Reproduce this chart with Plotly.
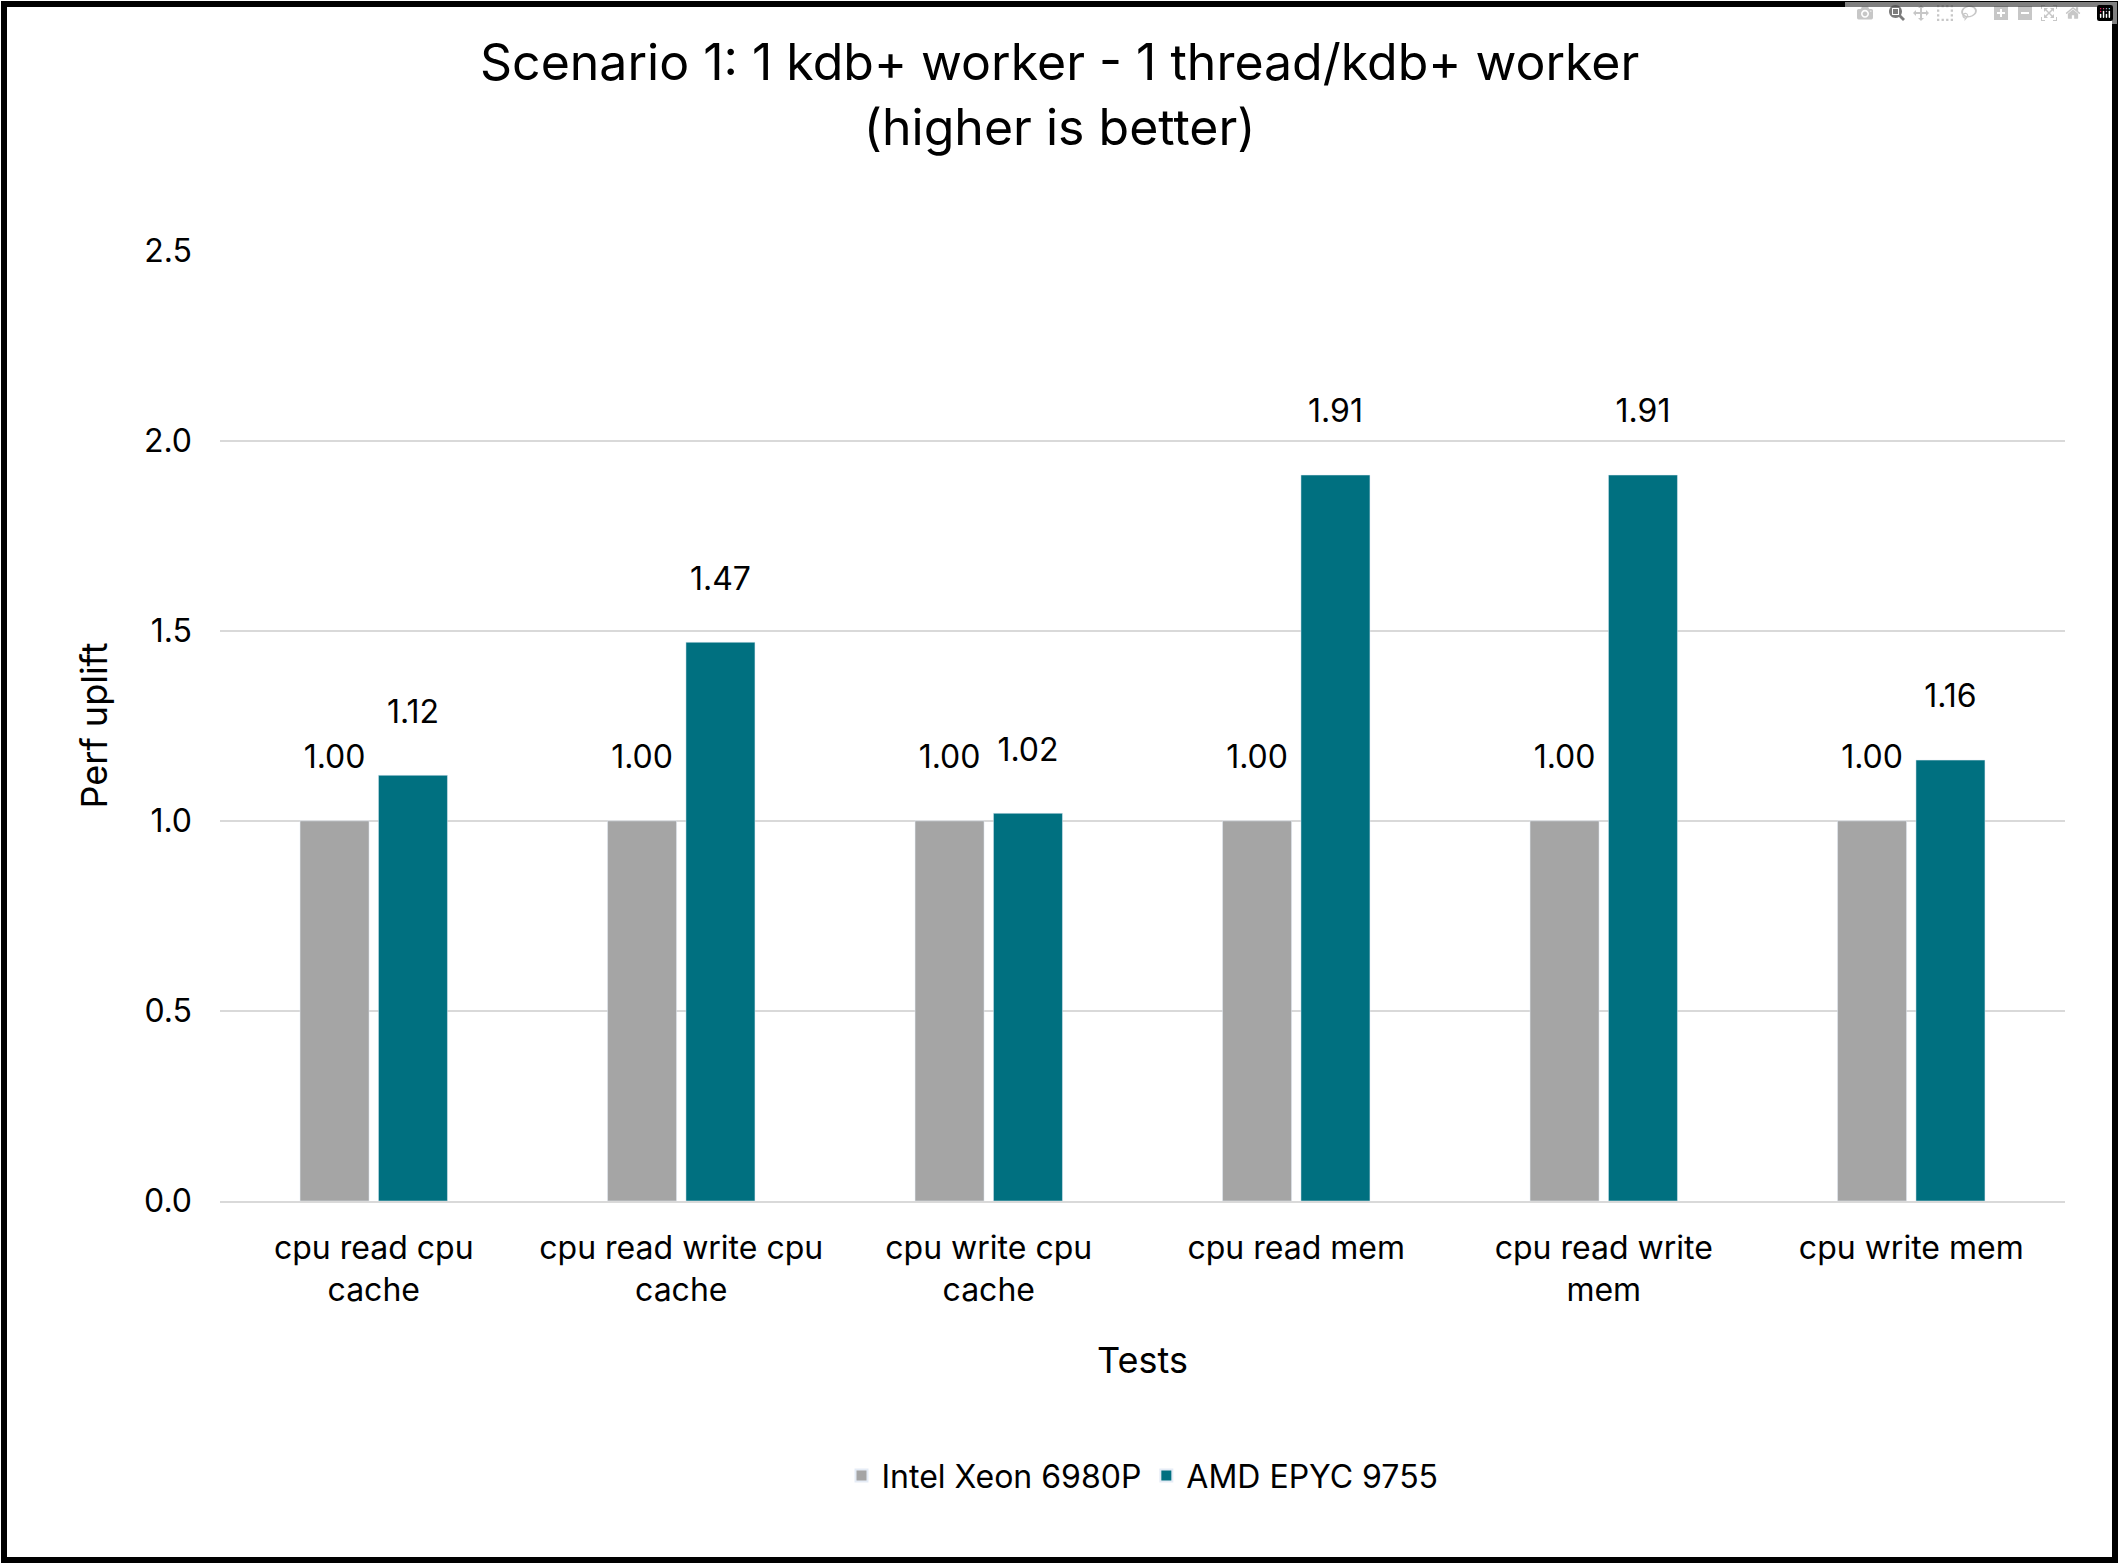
import plotly.graph_objects as go

categories = ["cpu read cpu<br>cache", "cpu read write cpu<br>cache", "cpu write cpu<br>cache",
              "cpu read mem", "cpu read write<br>mem", "cpu write mem"]
intel = [1.00, 1.00, 1.00, 1.00, 1.00, 1.00]
amd = [1.12, 1.47, 1.02, 1.91, 1.91, 1.16]

W, H = 2119, 1564
L, R, T, B = 220, 54, 250, 363
pw, ph = W - L - R, H - T - B
font = "Inter, Open Sans, sans-serif"

fig = go.Figure()
fig.add_bar(x=categories, y=intel, name="Intel Xeon 6980P", marker_color="#A5A5A5",
            text=[f"{v:.2f}<br> " for v in intel], textposition="outside",
            textfont=dict(size=32, color="black"), cliponaxis=False)
fig.add_bar(x=categories, y=amd, name="AMD EPYC 9755", marker_color="#007080",
            text=[f"{v:.2f}<br> " for v in amd], textposition="outside",
            textfont=dict(size=32, color="black"), cliponaxis=False)

fig.update_layout(
    width=W, height=H,
    margin=dict(l=L, r=R, t=T, b=B),
    paper_bgcolor="white", plot_bgcolor="white",
    font=dict(family=font, color="black", size=32),
    barmode="group", bargap=0.49, bargroupgap=0.12,
    xaxis=dict(title=dict(text="Tests", font=dict(size=36), standoff=40),
               tickfont=dict(size=32), showline=True, linecolor="#D9D9D9", linewidth=2,
               ticklabelstandoff=18),
    yaxis=dict(title=dict(text="Perf uplift", font=dict(size=36), standoff=25),
               range=[0, 2.502], dtick=0.5, tickformat=".1f",
               tickfont=dict(size=32), gridcolor="#D9D9D9", gridwidth=2,
               zeroline=False, ticksuffix="   "),
    legend=dict(orientation="h", x=0.5, xanchor="center", y=-0.26, yanchor="top",
                font=dict(size=32), itemsizing="constant"),
    annotations=[dict(text="Scenario 1: 1 kdb+ worker - 1 thread/kdb+ worker<br>(higher is better)",
                      xref="paper", yref="paper", x=0.5 - (L - R) / 2 / pw + 0.0, y=1 + 220 / ph,
                      xanchor="center", yanchor="top", showarrow=False,
                      font=dict(size=50, family=font), align="center")],
    shapes=[dict(type="rect", xref="paper", yref="paper",
                 x0=-(L - 4) / pw, x1=1 + (R - 4) / pw,
                 y0=-(B - 4) / ph, y1=1 + (T - 4) / ph,
                 line=dict(color="black", width=6))],
)

fig.write_html("out.html", post_script="document.body.style.margin='0';document.body.style.overflow='hidden';")
